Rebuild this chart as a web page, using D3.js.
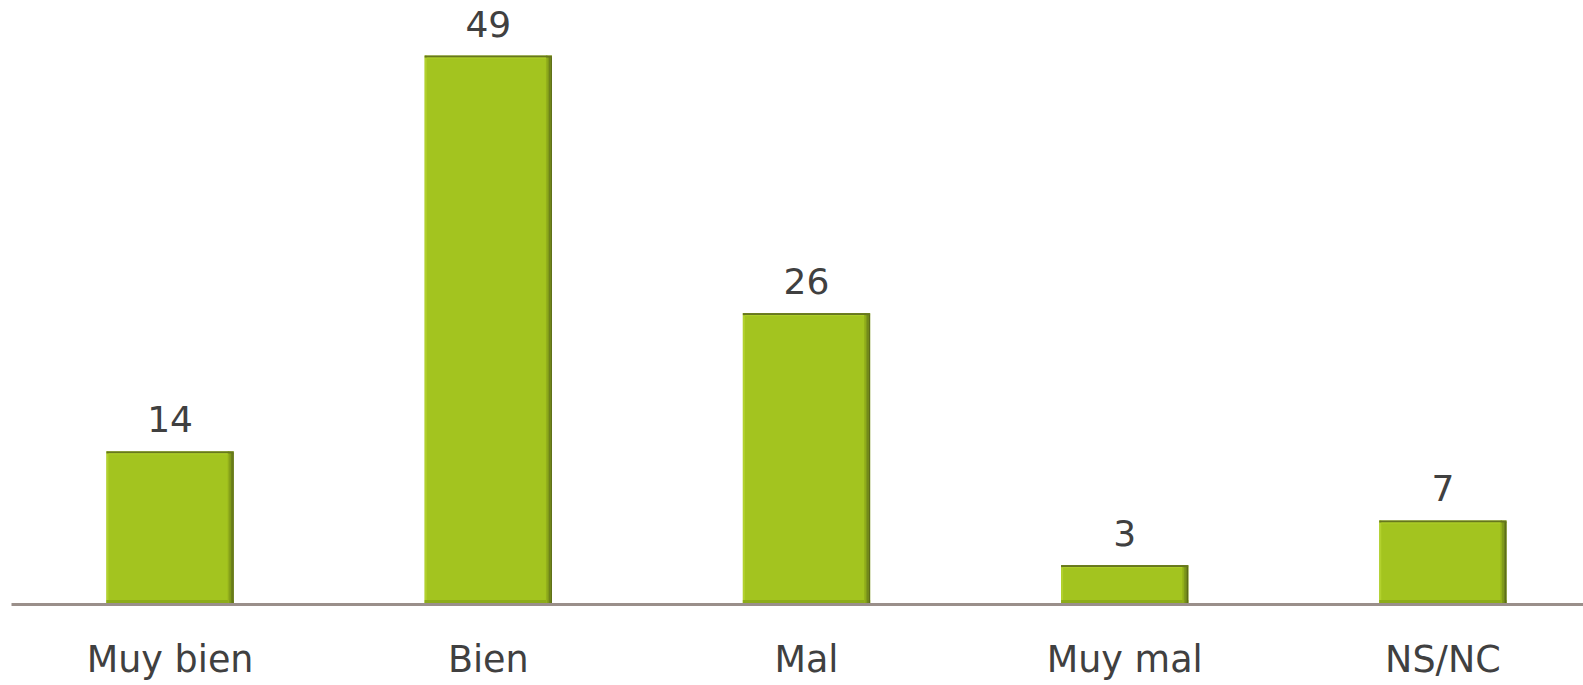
<!DOCTYPE html>
<html>
<head>
<meta charset="utf-8">
<script src="https://cdn.jsdelivr.net/npm/d3@7"></script>
<style>
  body { margin: 0; background: #fff; }
  svg { display: block; }
</style>
</head>
<body>
<div id="chart"></div>
<script>
const categories = ["Muy bien", "Bien", "Mal", "Muy mal", "NS/NC"]
const values = [13.6, 49.1, 26.0, 3.4, 7.4]

const width = 1583
const height = 685
const baseY = 603

const svg = d3.select("#chart")
  .append("svg")
  .attr("width", width)
  .attr("height", height)

const x = d3.scaleBand()
  .domain(categories)
  .range([11, 1602])
  .paddingInner(0.6)
  .paddingOuter(0.3)

const y = d3.scaleLinear()
  .domain([0, 50])
  .range([baseY, 45.5])

const data = categories.map((c, i) => ({ cat: c, val: values[i] }))

const bars = svg.append("g")
  .selectAll("g")
  .data(data)
  .enter().append("g")

// main fill
bars.append("rect")
  .attr("x", d => x(d.cat))
  .attr("y", d => y(d.val))
  .attr("width", x.bandwidth())
  .attr("height", d => baseY - y(d.val))
  .attr("fill", "#a3c41f")

// bevel: left highlight
bars.append("rect")
  .attr("x", d => x(d.cat))
  .attr("y", d => y(d.val))
  .attr("width", 2)
  .attr("height", d => baseY - y(d.val))
  .attr("fill", "#b2d12e")

// bevel: bottom shade
bars.append("rect")
  .attr("x", d => x(d.cat))
  .attr("y", baseY - 3)
  .attr("width", x.bandwidth())
  .attr("height", 3)
  .attr("fill", "#8dac19")

// bevel: right shade, a few bands getting darker
const rightBands = ["#93b01b", "#7f9a1a", "#6c821a", "#5b6b19"]
rightBands.forEach((col, k) => {
  bars.append("rect")
    .attr("x", d => x(d.cat) + x.bandwidth() - (rightBands.length - k) * 1.5)
    .attr("y", d => y(d.val) + k * 0.5)
    .attr("width", 1.5)
    .attr("height", d => baseY - y(d.val) - k * 0.5)
    .attr("fill", col)
})

// bevel: top dark edge
bars.append("rect")
  .attr("x", d => x(d.cat))
  .attr("y", d => y(d.val))
  .attr("width", x.bandwidth())
  .attr("height", 2)
  .attr("fill", "#66761e")
bars.append("rect")
  .attr("x", d => x(d.cat) + 2)
  .attr("y", d => y(d.val) + 2)
  .attr("width", x.bandwidth() - 8)
  .attr("height", 1)
  .attr("fill", "#b0cf2c")

// value labels
bars.append("text")
  .attr("x", d => x(d.cat) + x.bandwidth() / 2)
  .attr("y", d => y(d.val) - 19)
  .attr("text-anchor", "middle")
  .attr("font-family", "DejaVu Sans, sans-serif")
  .attr("font-size", "36px")
  .attr("fill", "#404040")
  .text(d => d3.format(".0f")(d.val))

// category axis
const axis = svg.append("g")
  .attr("transform", `translate(0, ${baseY + 1})`)
  .call(d3.axisBottom(x).tickSize(0).tickSizeOuter(0).tickPadding(42))

axis.select(".domain")
  .attr("stroke", "#9a8f8a")
  .attr("stroke-width", 3)

axis.selectAll("text")
  .attr("font-family", "DejaVu Sans, sans-serif")
  .attr("font-size", "36.5px")
  .attr("fill", "#404040")
</script>
</body>
</html>
